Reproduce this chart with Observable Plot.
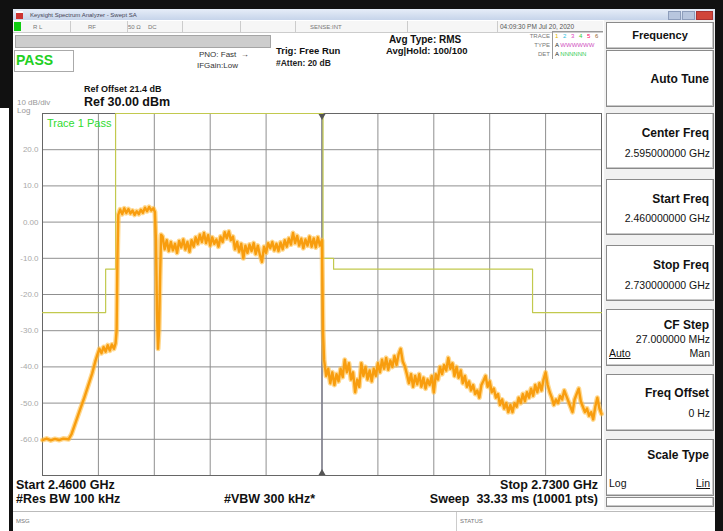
<!DOCTYPE html>
<html><head><meta charset="utf-8">
<script src="https://cdn.jsdelivr.net/npm/d3@7"></script>
<script src="https://cdn.jsdelivr.net/npm/@observablehq/plot@0.6"></script>
<style>
body{margin:0;background:#fff;}
#root{position:relative;width:723px;height:531px;overflow:hidden;font-family:"Liberation Sans",Arial,sans-serif;background:#fff;color:#111;}
.a{position:absolute;white-space:nowrap;line-height:1;}
.b{font-weight:bold;}
.r{text-align:right;}
.box{position:absolute;left:606px;width:106px;border:1px solid #8a8a8a;background:#fff;box-shadow:inset -1px -1px 0 #c8c8c8;}
.t{position:absolute;right:4px;font-weight:bold;font-size:12px;line-height:1;white-space:nowrap;}
.v{position:absolute;right:3px;font-size:10.5px;line-height:1;white-space:nowrap;}
.tiny{font-size:6px;color:#777;}
</style></head>
<body><div id="root">
  <!-- frame -->
  <div class="a" style="left:0;top:0;width:723px;height:9px;background:#111"></div>
  <div class="a" style="left:0;top:0;width:12px;height:108px;background:#111"></div>
  <div class="a" style="left:9px;top:0;width:4px;height:531px;background:#111"></div>
  <div class="a" style="left:715px;top:0;width:8px;height:531px;background:#111"></div>
  <!-- title bar -->
  <div class="a" style="left:13px;top:9px;width:702px;height:11px;background:linear-gradient(#e6edf8,#c6d4ea)"></div>
  <div class="a" style="left:16px;top:11px;width:7px;height:6px;background:#c33;border-top:2px solid #fff"></div>
  <div class="a tiny" style="left:30px;top:11.5px;color:#445">Keysight Spectrum Analyzer - Swept SA</div>
  <div class="a" style="left:668px;top:11px;width:11px;height:7px;background:#b8c6de;border:1px solid #8d9dbb"></div>
  <div class="a" style="left:682px;top:11px;width:11px;height:7px;background:#b8c6de;border:1px solid #8d9dbb"></div>
  <div class="a" style="left:696px;top:11px;width:15px;height:7px;background:#d0453a;border:1px solid #a33"></div>
  <!-- status row -->
  <div class="a" style="left:13px;top:21px;width:590px;height:11px;background:#f6f6f6;border-bottom:1px solid #ccc"></div>
  <div class="a" style="left:14px;top:22px;width:7px;height:9px;background:#1c1;"></div>
  <div class="a tiny" style="left:33px;top:24px">R L</div>
  <div class="a tiny" style="left:88px;top:24px">RF</div>
  <div class="a tiny" style="left:128px;top:24px">50 Ω</div>
  <div class="a tiny" style="left:148px;top:24px">DC</div>
  <div class="a tiny" style="left:310px;top:24px">SENSE:INT</div>
  <div class="a tiny" style="left:500px;top:23.5px;font-size:6.5px;color:#555">04:09:30 PM Jul 20, 2020</div>
  <div class="a" style="left:70px;top:21px;width:1px;height:11px;background:#ccc"></div>
  <div class="a" style="left:127px;top:21px;width:1px;height:11px;background:#ccc"></div>
  <div class="a" style="left:182px;top:21px;width:1px;height:11px;background:#ccc"></div>
  <div class="a" style="left:240px;top:21px;width:1px;height:11px;background:#ccc"></div>
  <div class="a" style="left:295px;top:21px;width:1px;height:11px;background:#ccc"></div>
  <div class="a" style="left:407px;top:21px;width:1px;height:11px;background:#ccc"></div>
  <div class="a" style="left:497px;top:21px;width:1px;height:11px;background:#ccc"></div>
  <!-- gray bar -->
  <div class="a" style="left:15px;top:35px;width:254px;height:11px;background:#cdcdcd;border:1px solid #a5a5a5"></div>
  <!-- PASS -->
  <div class="a" style="left:14px;top:50px;width:58px;height:20px;border:1px solid #aaa"></div>
  <div class="a b" style="left:16px;top:53px;font-size:14px;color:#22d022">PASS</div>
  <div class="a" style="left:199px;top:51px;font-size:8px;color:#333">PNO: Fast &nbsp;→</div>
  <div class="a" style="left:197px;top:62px;font-size:8px;color:#333">IFGain:Low</div>
  <div class="a b" style="left:276px;top:46px;font-size:9.5px">Trig: Free Run</div>
  <div class="a b" style="left:276px;top:59px;font-size:8.5px;color:#222">#Atten: 20 dB</div>
  <div class="a b" style="left:389px;top:35px;font-size:10px">Avg Type: RMS</div>
  <div class="a b" style="left:386px;top:46px;font-size:9.5px">Avg|Hold: 100/100</div>
  <!-- trace box -->
  <div class="a tiny r" style="left:510px;width:40px;top:33px">TRACE</div>
  <div class="a tiny r" style="left:510px;width:40px;top:42px">TYPE</div>
  <div class="a tiny r" style="left:510px;width:40px;top:51px">DET</div>
  <div class="a" style="left:552px;top:31px;width:50px;height:27px;border-left:1px solid #999;border-top:1px solid #999"></div>
  <div class="a" style="left:555px;top:33px;font-size:6px;letter-spacing:1.5px"><span style="color:#e6b800">1</span> <span style="color:#29c0e0">2</span> <span style="color:#e040c0">3</span> <span style="color:#3c3">4</span> <span style="color:#f06">5</span> <span style="color:#963">6</span></div>
  <div class="a" style="left:555px;top:42px;font-size:6px"><span style="color:#222">A</span> <span style="color:#d050c0">WWWWWW</span></div>
  <div class="a" style="left:555px;top:51px;font-size:6px"><span style="color:#222">A</span> <span style="color:#33cc55">NNNNNN</span></div>
  <!-- ref -->
  <div class="a b" style="left:84px;top:84.5px;font-size:9px">Ref Offset 21.4 dB</div>
  <div class="a b" style="left:84px;top:95.5px;font-size:12.5px">Ref 30.00 dBm</div>
  <div class="a" style="left:17px;top:99px;font-size:8px;color:#999">10 dB/div</div>
  <div class="a" style="left:17px;top:107px;font-size:8px;color:#999">Log</div>
  <!-- chart -->
  <div id="chart" class="a" style="left:0;top:100px"></div>
  <div class="a" style="left:47px;top:118px;font-size:11px;color:#2fdc2f">Trace 1 Pass</div>
  <!-- right panel -->
  <div class="a" style="left:604px;top:20px;width:111px;height:490px;background:#f1f1f1"></div>
  <div class="box" style="top:22px;height:25px"><div class="a b" style="left:0;width:106px;text-align:center;top:7px;font-size:11px">Frequency</div></div>
  <div class="box" style="top:50px;height:55px"><div class="t" style="top:22px">Auto Tune</div></div>
  <div class="box" style="top:113px;height:54px"><div class="t" style="top:13px">Center Freq</div><div class="v" style="top:34px">2.595000000 GHz</div></div>
  <div class="box" style="top:179px;height:54px"><div class="t" style="top:13px">Start Freq</div><div class="v" style="top:33px">2.460000000 GHz</div></div>
  <div class="box" style="top:245px;height:54px"><div class="t" style="top:13px">Stop Freq</div><div class="v" style="top:34px">2.730000000 GHz</div></div>
  <div class="box" style="top:309px;height:55px"><div class="t" style="top:9px">CF Step</div><div class="v" style="top:24px">27.000000 MHz</div><div class="a" style="left:2px;top:38px;font-size:10.5px;text-decoration:underline">Auto</div><div class="v" style="top:38px">Man</div></div>
  <div class="box" style="top:374px;height:55px"><div class="t" style="top:12px">Freq Offset</div><div class="v" style="top:33px">0 Hz</div></div>
  <div class="box" style="top:439px;height:55px"><div class="t" style="top:9px">Scale Type</div><div class="a" style="left:2px;top:38px;font-size:10.5px">Log</div><div class="v" style="top:38px;text-decoration:underline">Lin</div></div>
  <div class="box" style="top:497px;height:8px"></div>
  <!-- bottom -->
  <div class="a b" style="left:16px;top:478.5px;font-size:12.5px">Start 2.4600 GHz</div>
  <div class="a b r" style="left:398px;width:200px;top:478.5px;font-size:12.5px">Stop 2.7300 GHz</div>
  <div class="a b" style="left:16px;top:493px;font-size:12.5px">#Res BW 100 kHz</div>
  <div class="a b" style="left:224px;top:493px;font-size:12.5px">#VBW 300 kHz*</div>
  <div class="a b r" style="left:348px;width:250px;top:493px;font-size:12.5px">Sweep &nbsp;33.33 ms (10001 pts)</div>
  <div class="a" style="left:13px;top:511px;width:702px;height:1px;background:#bbb"></div>
  <div class="a" style="left:456px;top:512px;width:1px;height:19px;background:#ccc"></div>
  <div class="a tiny" style="left:16px;top:518px">MSG</div>
  <div class="a tiny" style="left:460px;top:518px">STATUS</div>
</div>
<script>
// ---- data ----
const xGridMHz = [2460, 2487, 2514, 2541, 2568, 2595, 2622, 2649, 2676, 2703, 2730];
const yGridDbm = [-70, -60, -50, -40, -30, -20, -10, 0, 10, 20, 30];
const yTickValues = [-60, -50, -40, -30, -20, -10, 0, 10, 20];
const yTickLabels = ["-60.0", "-50.0", "-40.0", "-30.0", "-20.0", "-10.0", "0.00", "10.0", "20.0"];
const centerMHz = [2595];
// limit line [MHz, dBm]
const limitLine = [
  [2460, -25], [2490.5, -25], [2490.5, -13], [2495.3, -13], [2495.3, 30],
  [2595.5, 30], [2595.5, -10], [2600.6, -10], [2600.6, -13], [2696.7, -13],
  [2696.7, -25], [2730, -25]
];
// trace 1 [MHz, dBm]
const trace1 = [
  [2460,-60.2],[2462,-59.8],[2464,-60.3],[2466,-59.9],[2468,-60.2],[2470,-59.8],[2472.6,-60.0],
  [2474,-58.6],[2476,-55.3],[2478,-52.0],[2480,-48.8],[2482,-45.3],[2484,-41.8],[2485.5,-38.5],[2486.6,-36.5],
  [2487.5,-35.0],[2488.5,-36.2],[2489.5,-34.5],[2490.5,-35.8],[2491.5,-34.0],[2492.5,-35.5],[2493.5,-33.8],[2494.5,-35.0],[2495.3,-33.5],[2495.8,-30],[2496.2,-10],
  [2496.6,2.0],[2497.5,3.5],[2498.5,2.2],[2499.5,3.8],[2500.5,2.5],[2501.5,3.6],[2502.5,2.4],[2503.5,3.2],[2504.5,2.0],[2505.5,3.0],[2506.5,2.2],[2507.5,3.4],[2508.5,2.6],[2509.5,4.0],[2510.5,3.0],[2511.5,4.2],[2512.5,3.2],[2513.5,3.8],[2514.3,2.8],
  [2514.8,-5],[2515.3,-25],[2515.8,-35],[2516.3,-30],[2516.8,-15],[2517.3,-3.5],
  [2518,-4.0],[2519,-7.5],[2520,-5.0],[2521,-8.0],[2522,-5.5],[2523,-7.8],[2524,-6.0],[2525,-8.5],[2526,-5.2],[2527,-7.0],
  [2528,-4.8],[2529,-7.6],[2530,-5.5],[2531,-8.2],[2532,-5.0],[2533,-6.8],[2534,-4.2],[2535,-6.0],[2536,-3.5],[2537,-5.5],
  [2538,-3.0],[2539,-5.8],[2540,-3.6],[2541,-6.5],[2542,-4.2],[2543,-6.0],[2544,-4.8],[2545,-6.8],[2546,-4.0],[2547,-5.5],
  [2548,-2.8],[2549,-4.5],[2550,-2.6],[2551,-5.0],[2552,-4.0],[2553,-7.5],[2554,-5.5],[2555,-8.2],[2556,-6.0],[2557,-10.0],
  [2558,-6.5],[2559,-8.5],[2560,-6.2],[2561,-8.0],[2562,-5.8],[2563,-8.8],[2564,-6.5],[2565,-9.0],[2566,-11.0],[2567,-6.8],
  [2568,-8.5],[2569,-5.8],[2570,-7.2],[2571,-5.5],[2572,-7.8],[2573,-6.0],[2574,-8.0],[2575,-5.6],[2576,-7.5],[2577,-5.0],
  [2578,-6.8],[2579,-4.5],[2580,-6.2],[2581,-3.0],[2582,-5.8],[2583,-3.8],[2584,-6.5],[2585,-4.6],[2586,-7.2],[2587,-4.8],
  [2588,-6.5],[2589,-4.0],[2590,-6.8],[2591,-4.5],[2592,-7.0],[2593,-4.2],[2594,-6.5],[2595,-5.0],[2595.5,-30],
  [2596,-38.0],[2597,-42.5],[2598,-40.5],[2599,-44.5],[2600,-41.5],[2601,-45.0],[2602,-42.0],[2603,-44.0],[2604,-40.5],[2605,-42.8],
  [2606,-38.0],[2607,-41.5],[2608,-39.0],[2609,-43.5],[2610,-41.5],[2611,-47.0],[2612,-43.5],[2613,-45.5],[2614,-39.0],[2615,-42.5],
  [2616,-40.0],[2617,-43.5],[2618,-41.0],[2619,-44.0],[2620,-40.5],[2621,-42.5],[2622,-39.0],[2623,-41.5],[2624,-38.0],[2625,-40.5],
  [2626,-37.5],[2627,-40.8],[2628,-38.2],[2629,-40.0],[2630,-37.0],[2631,-39.5],[2632,-36.5],[2633,-35.0],[2634,-38.5],[2635,-39.8],
  [2636,-42.0],[2637,-44.5],[2638,-42.0],[2639,-45.5],[2640,-42.5],[2641,-44.8],[2642,-42.0],[2643,-45.5],[2644,-43.0],[2645,-46.0],
  [2646,-43.5],[2647,-45.0],[2648,-42.5],[2649,-47.0],[2650,-42.0],[2651,-43.5],[2652,-40.0],[2653,-42.0],[2654,-39.5],[2655,-41.0],
  [2656,-37.5],[2657,-40.5],[2658,-39.0],[2659,-42.5],[2660,-40.0],[2661,-43.0],[2662,-41.0],[2663,-44.5],[2664,-42.5],[2665,-45.5],
  [2666,-44.0],[2667,-46.5],[2668,-45.0],[2669,-47.5],[2670,-46.5],[2671,-48.5],[2672,-45.0],[2673,-43.8],[2674,-42.5],[2675,-45.5],
  [2676,-44.0],[2677,-47.0],[2678,-46.0],[2679,-48.5],[2680,-47.5],[2681,-50.5],[2682,-49.0],[2683,-51.5],[2684,-50.0],[2685,-52.5],
  [2686,-50.5],[2687,-52.5],[2688,-50.0],[2689,-51.0],[2690,-48.5],[2691,-50.0],[2692,-47.5],[2693,-49.5],[2694,-47.0],[2695,-48.5],
  [2696,-46.0],[2697,-48.0],[2698,-45.0],[2699,-47.0],[2700,-44.5],[2701,-46.5],[2702,-43.5],[2703,-41.5],[2704,-45.0],[2705,-47.0],
  [2706,-48.5],[2707,-50.5],[2708,-49.0],[2709,-50.0],[2710,-48.0],[2711,-49.0],[2712,-46.5],[2713,-48.0],[2714,-49.5],[2715,-51.0],
  [2716,-52.5],[2717,-49.0],[2718,-47.5],[2719,-46.0],[2720,-49.5],[2721,-51.0],[2722,-52.5],[2723,-51.5],[2724,-53.5],[2725,-52.5],
  [2726,-54.5],[2727,-51.0],[2728,-48.5],[2729,-51.5],[2730,-53.0]
];

const labelOf = new Map(yTickValues.map((v, i) => [v, yTickLabels[i]]));
const chart = Plot.plot({
  width: 604, height: 380,
  marginLeft: 42, marginRight: 3, marginTop: 13, marginBottom: 5,
  style: {background: "transparent", fontFamily: "'Liberation Sans', Arial, sans-serif"},
  x: {domain: [2460, 2730], axis: null},
  y: {domain: [-70, 30], axis: null},
  marks: [
    Plot.gridX(xGridMHz, {stroke: "#8f8f8f", strokeOpacity: 1}),
    Plot.gridY(yGridDbm, {stroke: "#8f8f8f", strokeOpacity: 1}),
    Plot.ruleX(centerMHz, {stroke: "#7d7d8c", strokeWidth: 1.4}),
    Plot.frame({stroke: "#666"}),
    Plot.axisY(yTickValues, {tickSize: 0, tickPadding: 4, fontSize: 8, color: "#a9a9a9", tickFormat: d => labelOf.get(d)}),
    Plot.line(limitLine, {x: d => d[0], y: d => d[1], stroke: "#c2c94e", strokeWidth: 1.2}),
    Plot.line(trace1, {x: d => d[0], y: d => d[1], stroke: "#ffbe45", strokeWidth: 5, strokeOpacity: 0.6, strokeLinejoin: "round"}),
    Plot.line(trace1, {x: d => d[0], y: d => d[1], stroke: "#f89d0e", strokeWidth: 2.4, strokeLinejoin: "round"}),
    Plot.dot(centerMHz, {x: d => d, y: () => 30, dy: 2.5, symbol: "triangle", rotate: 180, r: 2.6, fill: "#555", stroke: "none"}),
    Plot.dot(centerMHz, {x: d => d, y: () => -70, dy: -2.5, symbol: "triangle", r: 2.6, fill: "#555", stroke: "none"})
  ]
});
document.getElementById("chart").appendChild(chart);
</script>
</body></html>
